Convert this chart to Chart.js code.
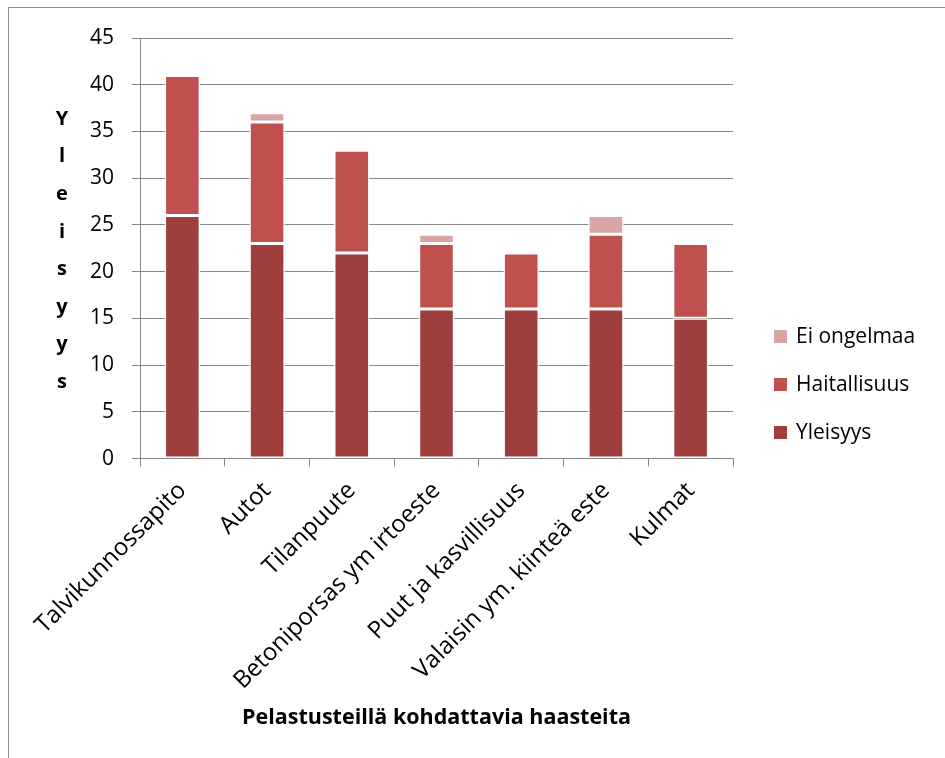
<!DOCTYPE html>
<html>
<head>
<meta charset="utf-8">
<script src="https://cdn.jsdelivr.net/npm/chart.js@4.4.1/dist/chart.umd.min.js"></script>
<style>
  html, body { margin: 0; padding: 0; background: #fff; }
  canvas { display: block; }
</style>
</head>
<body>
<canvas id="chart" width="945" height="758"></canvas>
<script>
const categories = [
  "Talvikunnossapito",
  "Autot",
  "Tilanpuute",
  "Betoniporsas ym irtoeste",
  "Puut ja kasvillisuus",
  "Valaisin ym. kiinteä este",
  "Kulmat"
];
const yleisyys = [26, 23, 22, 16, 16, 16, 15];
const haitallisuus = [15, 13, 11, 7, 6, 8, 8];
const eiOngelmaa = [0, 1, 0, 1, 0, 2, 0];

const yTitle = "Yleisyys";
const xTitle = "Pelastusteillä kohdattavia haasteita";

const FONT = "'Open Sans', 'Liberation Sans', sans-serif";
const GRID = "#878787";

// frame, stacked y title and legend drawn by hand
const extras = {
  id: "extras",
  beforeDraw(chart) {
    const c = chart.ctx;
    c.save();
    c.strokeStyle = "#8c8c8c";
    c.lineWidth = 1;
    c.beginPath();
    c.moveTo(8.5, chart.height);
    c.lineTo(8.5, 7.5);
    c.lineTo(chart.width, 7.5);
    c.stroke();
    c.restore();
  },
  afterDraw(chart) {
    const c = chart.ctx;
    c.save();
    c.fillStyle = "#000";
    c.font = "bold 20px " + FONT;
    c.textAlign = "center";
    c.textBaseline = "middle";
    yTitle.split("").forEach((ch, i) => {
      c.fillText(ch, 62, 119 + i * 37.6);
    });

    // legend, reversed order like the original
    c.font = "21px " + FONT;
    c.textAlign = "left";
    const ds = chart.data.datasets.slice().reverse();
    ds.forEach((d, i) => {
      const y = 336.5 + i * 48;
      c.fillStyle = d.backgroundColor;
      c.fillRect(774, y - 6.5, 13, 13);
      c.fillStyle = "#000";
      c.fillText(d.label, 796, y + 1);
    });
    c.restore();
  }
};

new Chart(document.getElementById("chart"), {
  type: "bar",
  data: {
    labels: categories,
    datasets: [
      { label: "Yleisyys", data: yleisyys, backgroundColor: "#9e3f3d" },
      { label: "Haitallisuus", data: haitallisuus, backgroundColor: "#c0504d" },
      { label: "Ei ongelmaa", data: eiOngelmaa, backgroundColor: "#d9a6a5" }
    ]
  },
  options: {
    responsive: false,
    animation: false,
    layout: { padding: { left: 72, right: 212, top: 38, bottom: 27 } },
    datasets: {
      bar: {
        barPercentage: 0.42,
        categoryPercentage: 1,
        borderColor: "#ffffff",
        borderWidth: 1.5,
        borderSkipped: false
      }
    },
    plugins: {
      legend: { display: false },
      tooltip: { enabled: false }
    },
    scales: {
      x: {
        stacked: true,
        grid: { drawOnChartArea: false, drawTicks: true, tickLength: 8, color: GRID },
        border: { color: GRID },
        ticks: {
          color: "#000",
          font: { family: FONT, size: 24 },
          maxRotation: 45,
          minRotation: 45,
          padding: 10
        },
        title: {
          display: true,
          text: xTitle,
          color: "#000",
          font: { family: FONT, size: 21.5, weight: "bold" },
          padding: { top: 0, bottom: 0 }
        }
      },
      y: {
        stacked: true,
        min: 0,
        max: 45,
        ticks: {
          stepSize: 5,
          color: "#000",
          font: { family: FONT, size: 21 },
          padding: 18
        },
        grid: { color: GRID, tickLength: 8 },
        border: { color: GRID }
      }
    }
  },
  plugins: [extras]
});
</script>
</body>
</html>
